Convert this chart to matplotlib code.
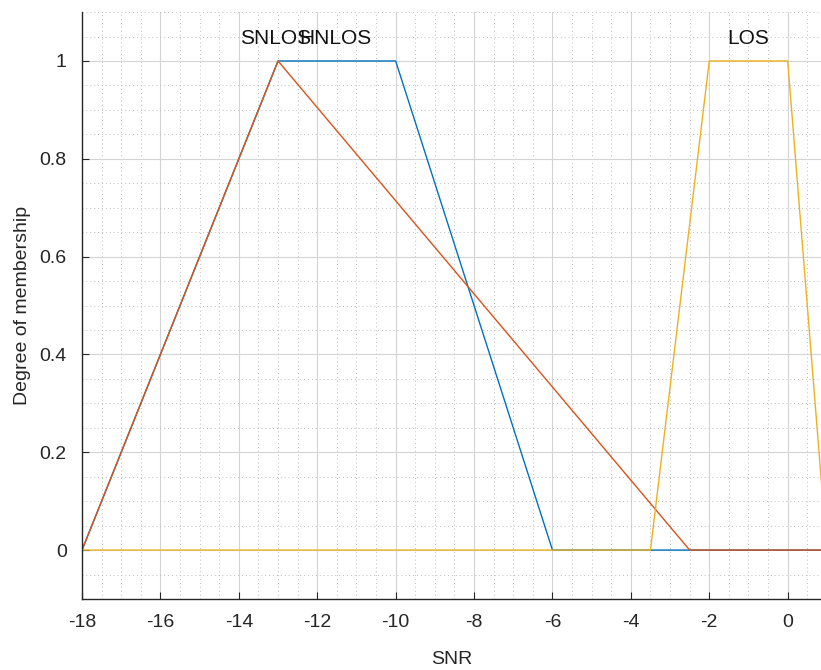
import numpy as np
import matplotlib.pyplot as plt
from matplotlib.ticker import MultipleLocator

plt.rcParams['font.family'] = ['Liberation Sans', 'DejaVu Sans']
plt.rcParams['axes.unicode_minus'] = False

# membership function break points (SNR, degree)
hnlos_x = [-18, -13, -10, -6, 1]
hnlos_y = [0, 1, 1, 0, 0]
snlos_x = [-18, -13, -2.5, 1]
snlos_y = [0, 1, 0, 0]
los_x = [-18, -3.5, -2, 0, 1]
los_y = [0, 0, 1, 1, 0]

names = ["HNLOS", "SNLOS", "LOS"]
label_x = [-11.55, -13.05, -1.0]
colors = ["#0072BD", "#D95319", "#EDB120"]

fig = plt.figure(figsize=(8.21, 6.70), dpi=100)
ax = fig.add_axes([0.0999, 0.106, 0.9001, 0.876])

ax.plot(hnlos_x, hnlos_y, color=colors[0], lw=1.0)
ax.plot(snlos_x, snlos_y, color=colors[1], lw=1.0)
ax.plot(los_x, los_y, color=colors[2], lw=1.0)

# labels sit above each peak, SNLOS and HNLOS run into each other as in the original
for name, lx in zip(names, label_x):
    ax.text(lx, 1.045, name, ha="center", va="center", fontsize=15, color="#111111")

ax.set_xlim(-18, 0.85)
ax.set_ylim(-0.1, 1.1)
ax.xaxis.set_major_locator(MultipleLocator(2))
ax.xaxis.set_minor_locator(MultipleLocator(0.5))
ax.yaxis.set_major_locator(MultipleLocator(0.2))
ax.yaxis.set_minor_locator(MultipleLocator(0.05))
ax.set_yticks([0, 0.2, 0.4, 0.6, 0.8, 1])
ax.set_yticklabels(["0", "0.2", "0.4", "0.6", "0.8", "1"])

ax.grid(which="major", color="#d4d4d4", lw=0.8)
ax.grid(which="minor", color="#bdbdbd", lw=0.7, linestyle=(0, (1, 3)))
ax.set_axisbelow(True)

for s in ["top", "right"]:
    ax.spines[s].set_visible(False)
for s in ["left", "bottom"]:
    ax.spines[s].set_color("#262626")
    ax.spines[s].set_linewidth(1.0)

ax.tick_params(which="major", direction="in", length=5, labelsize=14,
               colors="#262626", pad=11)
ax.tick_params(which="minor", length=0)

ax.set_xlabel("SNR", fontsize=14, color="#262626", labelpad=14)
ax.set_ylabel("Degree of membership", fontsize=14, color="#262626", labelpad=6)

fig.savefig("out.png", dpi=100)
